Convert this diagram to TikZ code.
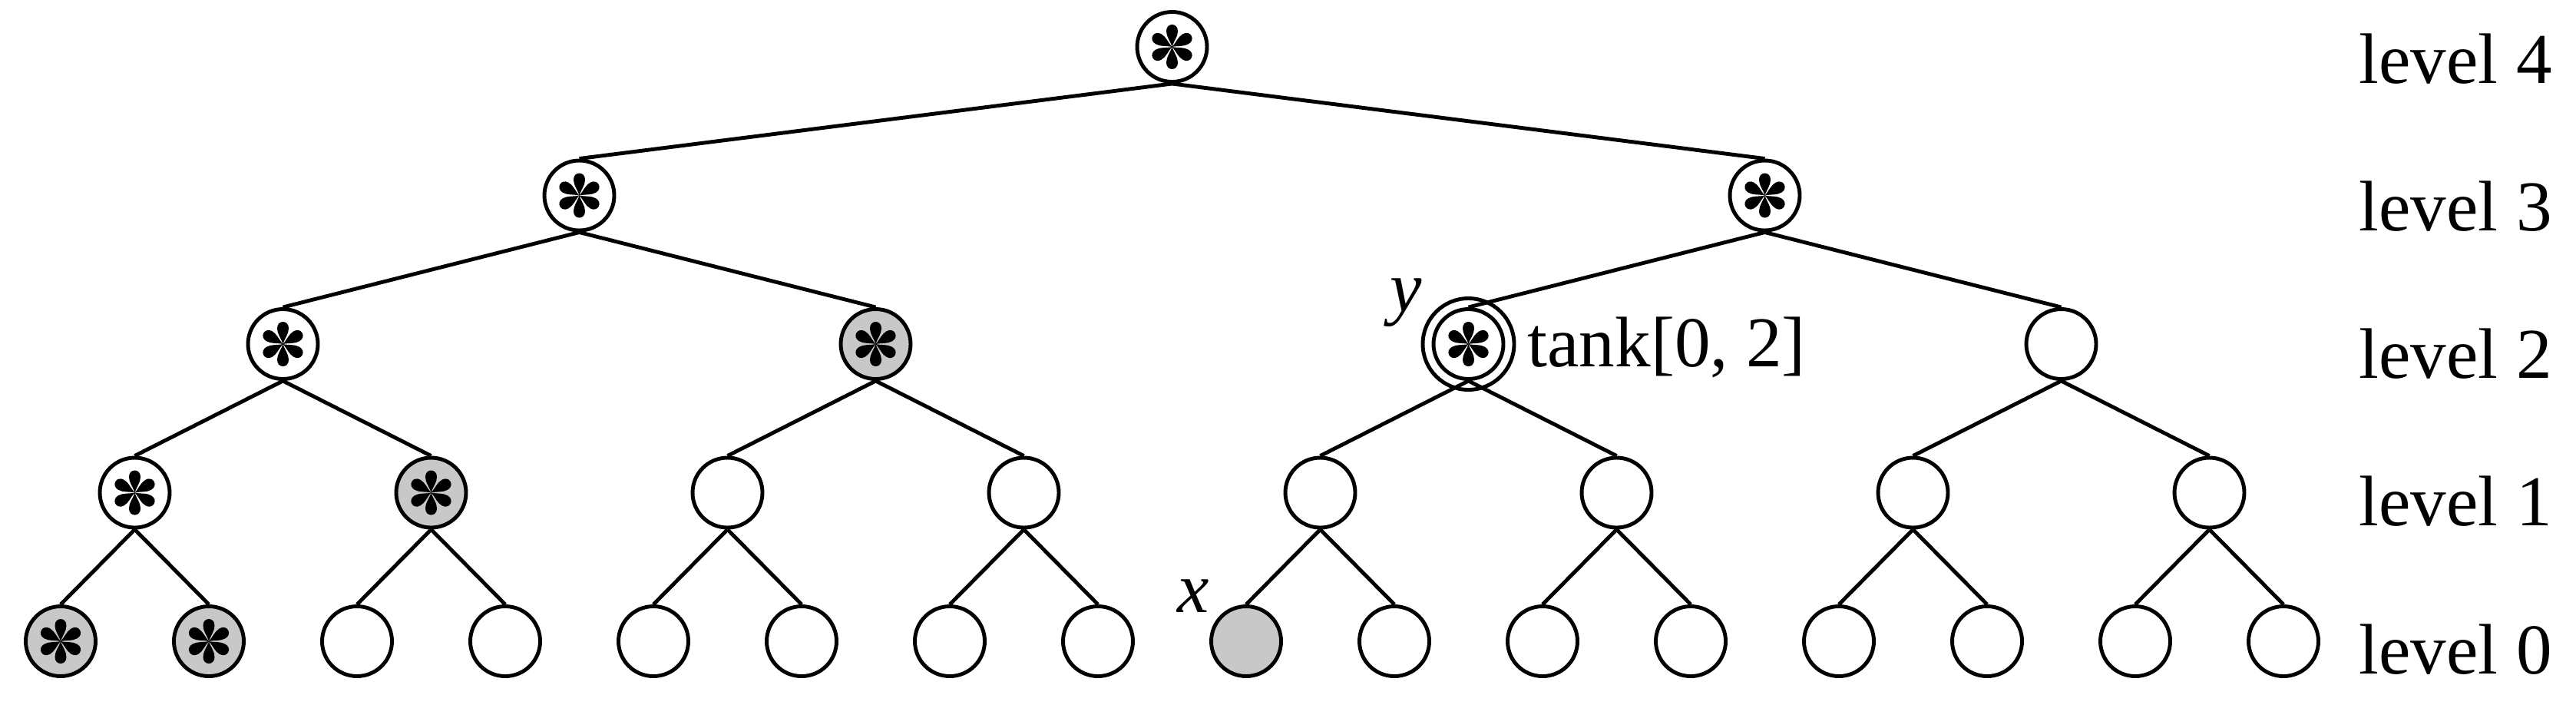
\documentclass[tikz,border=0pt]{standalone}
\usepackage{fontspec}
\setmainfont{Liberation Serif}
\usetikzlibrary{backgrounds}
\definecolor{hitgray}{RGB}{200,200,200}
\tikzset{
  treenode/.style={circle,draw,line width=1.4pt,minimum size=9.1mm,inner sep=0pt},
  edge/.style={line width=1.4pt},
  tag/.style={font=\fontsize{26.5}{32}\selectfont,inner sep=0pt,anchor=base west},
  flower/.pic={
    \foreach \a in {30,90,...,330}
      \fill[rotate=\a] (0,0) .. controls (0.08,0.025) and (0.13,0.075) .. (0.205,0.075)
        .. controls (0.26,0.075) and (0.29,0.04) .. (0.29,0)
        .. controls (0.29,-0.04) and (0.26,-0.075) .. (0.205,-0.075)
        .. controls (0.13,-0.075) and (0.08,-0.025) .. (0,0) -- cycle;
  }
}

\begin{document}
\begin{tikzpicture}
\useasboundingbox (0,0) rectangle (33.55,-9.17);
% nodes, level by level
\foreach \l in {0,...,4} {
  \pgfmathtruncatemacro\last{2^(4-\l)-1}
  \foreach \i in {0,...,\last}
    \node[treenode] (n\l-\i) at ({0.79+1.93*(\i*2^\l+(2^\l-1)/2)},{1.935*\l-8.35}) {};
}
% edges to the two children
\foreach \l in {1,...,4} {
  \pgfmathtruncatemacro\last{2^(4-\l)-1}
  \pgfmathtruncatemacro\lo{\l-1}
  \foreach \i in {0,...,\last} {
    \pgfmathtruncatemacro\a{2*\i}
    \pgfmathtruncatemacro\b{2*\i+1}
    \draw[edge] (n\l-\i.south) -- (n\lo-\a.north);
    \draw[edge] (n\l-\i.south) -- (n\lo-\b.north);
  }
}
\begin{scope}[on background layer]
  \foreach \nd in {n2-1,n1-1,n0-0,n0-1,n0-8}
    \fill[hitgray] (\nd) circle (4.55mm);
\end{scope}
\foreach \nd in {n4-0,n3-0,n3-1,n2-0,n2-1,n2-2,n1-0,n1-1,n0-0,n0-1}
  \pic at (\nd) {flower};
\draw[edge] (n2-2) circle (5.95mm);
\node[tag] (tank) at (19.89,-4.77) {tank[0, 2]};
\node[tag] (ylab) at (18.1,-4.05) {\itshape y};
\node[tag] (xlab) at (15.33,-7.97) {\itshape x};
% level names on the right
\foreach \l in {0,...,4}
  \node[tag] (lvl\l) at (30.72,{1.9225*\l-8.77}) {level \l};
\end{tikzpicture}
\end{document}
